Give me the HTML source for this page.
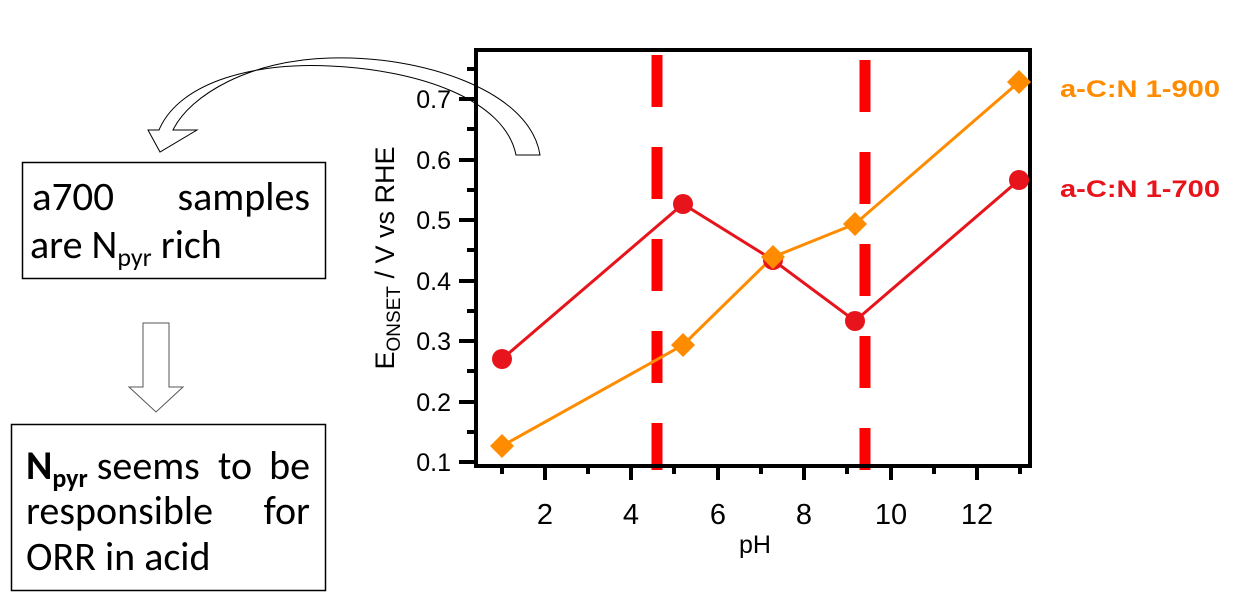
<!DOCTYPE html>
<html><head><meta charset="utf-8"><style>
body{margin:0;background:#fff;}
svg{display:block;}
text{font-family:"Liberation Sans",Arial,sans-serif;}
.c{font-family:"Carlito","Liberation Sans",sans-serif;font-size:40px;fill:#000;}
</style></head><body>
<svg width="1242" height="607" viewBox="0 0 1242 607" xmlns="http://www.w3.org/2000/svg">
<rect width="1242" height="607" fill="#fff"/>
<rect x="22.5" y="162.5" width="303" height="116" fill="none" stroke="#000" stroke-width="1.5"/>
<text class="c" x="32" y="210" textLength="82" lengthAdjust="spacingAndGlyphs">a700</text>
<text class="c" x="310" y="210" text-anchor="end">samples</text>
<text class="c" x="30" y="258">are N<tspan font-size="26" dy="8">pyr</tspan><tspan dy="-8"> rich</tspan></text>
<rect x="11.5" y="424.5" width="314" height="166" fill="none" stroke="#000" stroke-width="1.5"/>
<text class="c" x="26" y="479"><tspan font-weight="bold">N</tspan><tspan font-size="26" font-weight="bold" dy="8">pyr</tspan><tspan dy="-8"> seems</tspan></text>
<text class="c" x="218" y="479">to</text>
<text class="c" x="310" y="479" text-anchor="end">be</text>
<text class="c" x="26" y="524">responsible</text>
<text class="c" x="310" y="524" text-anchor="end">for</text>
<text class="c" x="26" y="570">ORR in acid</text>
<path d="M143,323 H169 V387 H183 L156,412 L129,387 H143 Z" fill="#fff" stroke="#555" stroke-width="1"/>
<path d="M540,155 C530,90 420,55 330,58 C250,60 190,95 173,130 L197,130 L160,152 L148,130 L159,130 C180,80 260,62 330,66 C420,70 505,100 516,155 Z" fill="#fff" stroke="#000" stroke-width="1"/>
<g stroke="#ff0000" stroke-width="11" stroke-dasharray="52 40">
<line x1="657" y1="55" x2="657" y2="470"/>
<line x1="865" y1="60" x2="865" y2="470"/>
</g>
<rect x="476" y="50" width="554" height="416" fill="none" stroke="#000" stroke-width="4"/>
<g stroke="#000" stroke-width="4">
<line x1="459" y1="462" x2="476" y2="462"/><line x1="459" y1="402" x2="476" y2="402"/><line x1="459" y1="341" x2="476" y2="341"/><line x1="459" y1="281" x2="476" y2="281"/><line x1="459" y1="220" x2="476" y2="220"/><line x1="459" y1="160" x2="476" y2="160"/><line x1="459" y1="99" x2="476" y2="99"/>
<line x1="467" y1="432" x2="476" y2="432"/><line x1="467" y1="371" x2="476" y2="371"/><line x1="467" y1="311" x2="476" y2="311"/><line x1="467" y1="250" x2="476" y2="250"/><line x1="467" y1="190" x2="476" y2="190"/><line x1="467" y1="129" x2="476" y2="129"/><line x1="467" y1="69" x2="476" y2="69"/>
<line x1="545" y1="466" x2="545" y2="480"/><line x1="631" y1="466" x2="631" y2="480"/><line x1="718" y1="466" x2="718" y2="480"/><line x1="804" y1="466" x2="804" y2="480"/><line x1="891" y1="466" x2="891" y2="480"/><line x1="977" y1="466" x2="977" y2="480"/>
<line x1="502" y1="466" x2="502" y2="474"/><line x1="588" y1="466" x2="588" y2="474"/><line x1="674" y1="466" x2="674" y2="474"/><line x1="761" y1="466" x2="761" y2="474"/><line x1="847" y1="466" x2="847" y2="474"/><line x1="934" y1="466" x2="934" y2="474"/><line x1="1020" y1="466" x2="1020" y2="474"/>
</g>
<g style="font-size:25px" text-anchor="end">
<text x="451" y="471">0.1</text><text x="451" y="411">0.2</text><text x="451" y="350">0.3</text><text x="451" y="290">0.4</text><text x="451" y="229">0.5</text><text x="451" y="169">0.6</text><text x="451" y="108">0.7</text>
</g>
<g style="font-size:29px" text-anchor="middle">
<text x="545" y="524">2</text><text x="631" y="524">4</text><text x="718" y="524">6</text><text x="804" y="524">8</text><text x="891" y="524">10</text><text x="977" y="524">12</text>
<text x="755" y="553" style="font-size:25px">pH</text>
</g>
<text transform="translate(394,258) rotate(-90)" style="font-size:27px" text-anchor="middle">E<tspan style="font-size:19px" dy="6">ONSET</tspan><tspan dy="-6"> / V vs RHE</tspan></text>
<polyline points="502,359 683,204 773,260 855,321 1019,180" fill="none" stroke="#e8141c" stroke-width="3"/>
<polyline points="502,446 683,345 773,257 855,224 1019,82" fill="none" stroke="#ff8c00" stroke-width="3"/>
<g fill="#e8141c"><circle cx="502" cy="359" r="10"/><circle cx="683" cy="204" r="10"/><circle cx="773" cy="260" r="10"/><circle cx="855" cy="321" r="10"/><circle cx="1019" cy="180" r="10"/></g>
<g fill="#ff8c00">
<path d="M502,434 l12,12 l-12,12 l-12,-12z"/><path d="M683,333 l12,12 l-12,12 l-12,-12z"/><path d="M773,245 l12,12 l-12,12 l-12,-12z"/><path d="M855,212 l12,12 l-12,12 l-12,-12z"/><path d="M1019,70 l12,12 l-12,12 l-12,-12z"/>
</g>
<text x="1060" y="97" style="font-size:24px" font-weight="bold" fill="#ff8c00" textLength="160" lengthAdjust="spacingAndGlyphs">a-C:N 1-900</text>
<text x="1060" y="197" style="font-size:24px" font-weight="bold" fill="#e8141c" textLength="160" lengthAdjust="spacingAndGlyphs">a-C:N 1-700</text>
</svg>
</body></html>
